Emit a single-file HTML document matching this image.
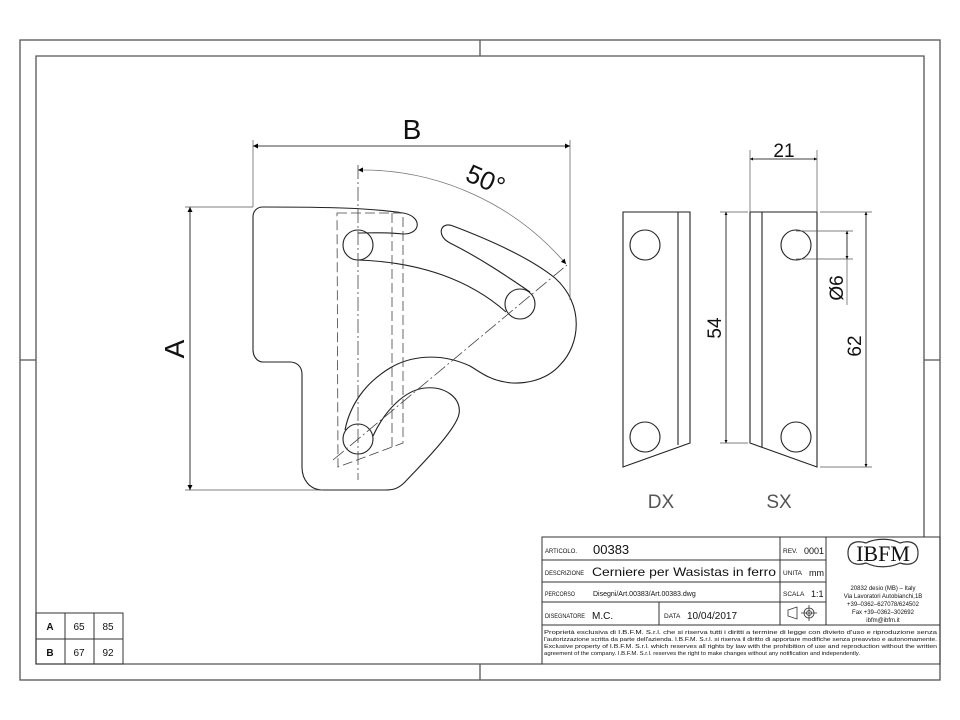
<!DOCTYPE html>
<html><head><meta charset="utf-8"><style>
html,body{margin:0;padding:0;background:#fff;}
svg{display:block;}
text{font-family:"Liberation Sans",sans-serif;fill:#111;}
</style></head><body>
<svg width="960" height="720" viewBox="0 0 960 720" xmlns="http://www.w3.org/2000/svg">
<defs>
<marker id="ar" viewBox="0 0 10 10" refX="10" refY="5" markerWidth="14" markerHeight="5" orient="auto-start-reverse" markerUnits="userSpaceOnUse"><path d="M0,0 L10,5 L0,10 z" fill="#000"/></marker>
<marker id="as" viewBox="0 0 10 10" refX="10" refY="5" markerWidth="8" markerHeight="3" orient="auto-start-reverse" markerUnits="userSpaceOnUse"><path d="M0,0 L10,5 L0,10 z" fill="#000"/></marker>
</defs>
<g fill="none" stroke="#555" stroke-width="1.3">
<rect x="20" y="40" width="920" height="640"/>
<path d="M924,537 V56 H36 V664 H542"/>
<path d="M480,40 V56 M480,664 V680 M20,360 H36 M924,360 H940"/>
</g>
<g fill="none" stroke="#333" stroke-width="1">
<rect x="36" y="613" width="87" height="51"/>
<path d="M36,639 H123 M65,613 V664 M94,613 V664"/>
</g>
<text x="50" y="630" font-size="10" font-weight="bold" text-anchor="middle">A</text>
<text x="50" y="656" font-size="10" font-weight="bold" text-anchor="middle">B</text>
<text x="79" y="630" font-size="10" text-anchor="middle">65</text>
<text x="108" y="630" font-size="10" text-anchor="middle">85</text>
<text x="79" y="656" font-size="10" text-anchor="middle">67</text>
<text x="108" y="656" font-size="10" text-anchor="middle">92</text>

<g fill="none" stroke="#222" stroke-width="1.1">
<path d="M263,207 C330,207 370,208 403,213 C422,216 422,234 403,234 C385,232 370,233 358,233"/>
<path d="M358,260 C420,262 470,280 506,312"/>
<path d="M530,292 C505,275 480,258 450,243 C436,236 440,221 453,226 C490,240 530,258 555,278 C585,305 580,345 560,365 C545,382 520,385 505,382 C490,380 480,372 470,366 C440,352 410,356 390,368 C365,383 350,405 345,430"/>
<path d="M373,436 C385,410 405,390 425,388 C445,386 462,398 459,414 C456,430 420,466 405,482 C398,489 393,490 385,490 L323,490 C310,490 302,480 302,467 L302,374 C302,366 296,362 290,362 L263,362 C257,362 253,356 253,350 L253,217 C253,211 257,207 263,207"/>
<circle cx="358" cy="245" r="15"/>
<circle cx="520" cy="304" r="15"/>
<circle cx="358" cy="439" r="15"/>
</g>
<g fill="none" stroke="#444" stroke-width="0.8" stroke-dasharray="10,4">
<path d="M337,213 H403 V443 L338,467 Z"/>
<path d="M392,213 V447"/>
</g>
<g fill="none" stroke="#444" stroke-width="0.8" stroke-dasharray="14,3,2,3">
<path d="M358,165 V480"/>
<path d="M333,460 L567,265"/>
</g>
<g fill="none" stroke="#555" stroke-width="0.7">
<path d="M253,140 V207 M570,140 V300"/>
<path d="M185,207 H253 M185,490 H323"/>
</g>
<g fill="none" stroke="#000" stroke-width="0.8">
<path d="M253,146 H570" marker-start="url(#ar)" marker-end="url(#ar)"/>
<path d="M190,207 V490" marker-start="url(#ar)" marker-end="url(#ar)"/>
<path d="M358,170 A269,269 0 0 1 566,264" marker-start="url(#ar)" marker-end="url(#ar)" stroke="#777"/>
</g>
<text x="412" y="139" font-size="28" text-anchor="middle">B</text>
<text transform="translate(184,349) rotate(-90)" font-size="28" text-anchor="middle">A</text>
<text transform="translate(482,188) rotate(24)" font-size="26" text-anchor="middle">50°</text>

<g fill="none" stroke="#222" stroke-width="1.1">
<path d="M623,212 H690 V443 L623,467 Z M678,212 V445"/>
<circle cx="645" cy="245" r="15"/><circle cx="645" cy="437" r="15"/>
<path d="M750,212 H817 V467 L750,443 Z M762,212 V447"/>
<circle cx="796" cy="245" r="15"/><circle cx="796" cy="437" r="15"/>
</g>
<g fill="none" stroke="#555" stroke-width="0.7">
<path d="M750,150 V212 M817,150 V212"/>
<path d="M720,212 H748 M720,443 H748"/>
<path d="M820,212 H872 M820,467 H872"/>
<path d="M796,231 H853 M796,259 H853"/>
<path d="M847,259 V305"/>
</g>
<g fill="none" stroke="#000" stroke-width="0.8">
<path d="M750,159 H817" marker-start="url(#as)" marker-end="url(#as)"/>
<path d="M726,212 V443" marker-start="url(#as)" marker-end="url(#as)"/>
<path d="M866,212 V467" marker-start="url(#as)" marker-end="url(#as)"/>
<path d="M847,231 V259" marker-start="url(#as)" marker-end="url(#as)"/>
</g>
<text x="784" y="157" font-size="19" text-anchor="middle">21</text>
<text transform="translate(721,328) rotate(-90)" font-size="19" text-anchor="middle">54</text>
<text transform="translate(861,346) rotate(-90)" font-size="19" text-anchor="middle">62</text>
<text transform="translate(843,288) rotate(-90)" font-size="19" text-anchor="middle">Ø6</text>
<text x="661" y="508" font-size="19" text-anchor="middle" style="fill:#555">DX</text>
<text x="779" y="508" font-size="19" text-anchor="middle" style="fill:#555">SX</text>

<g fill="none" stroke="#333" stroke-width="1">
<rect x="542" y="537" width="398" height="127"/>
<path d="M542,560 H826 M542,582 H826 M542,602 H826 M542,625 H940"/>
<path d="M780,537 V625 M826,537 V625 M659,602 V625"/>
</g>
<g font-size="6.5">
<text x="545" y="553" textLength="32" lengthAdjust="spacingAndGlyphs">ARTICOLO.</text>
<text x="545" y="575" textLength="39" lengthAdjust="spacingAndGlyphs">DESCRIZIONE</text>
<text x="545" y="596" textLength="30" lengthAdjust="spacingAndGlyphs">PERCORSO</text>
<text x="545" y="618" textLength="40" lengthAdjust="spacingAndGlyphs">DISEGNATORE</text>
<text x="664" y="618">DATA</text>
<text x="783" y="553">REV.</text>
<text x="783" y="575">UNITA</text>
<text x="783" y="596">SCALA</text>
</g>
<text x="593" y="554" font-size="13">00383</text>
<text x="592" y="576" font-size="12" textLength="184" lengthAdjust="spacingAndGlyphs">Cerniere per Wasistas in ferro</text>
<text x="593" y="596" font-size="7">Disegni/Art.00383/Art.00383.dwg</text>
<text x="592" y="619" font-size="10">M.C.</text>
<text x="687" y="619" font-size="10">10/04/2017</text>
<text x="804" y="554" font-size="9">0001</text>
<text x="809" y="576" font-size="9">mm</text>
<text x="811" y="597" font-size="9">1:1</text>
<g fill="none" stroke="#333" stroke-width="0.8">
<path d="M788,610 L797,607 V619 L788,616 Z"/>
<circle cx="809" cy="613" r="5"/><circle cx="809" cy="613" r="2.5"/>
<path d="M801,613 H817 M809,605 V621"/>
<path d="M848,553 C848,540 860,541 866,543 C876,538 890,538 900,543 C906,541 918,540 918,553 C918,566 906,565 900,563 C890,568 876,568 866,563 C860,565 848,566 848,553 Z" stroke-width="1.2"/>
</g>
<text x="883" y="561" font-size="22" text-anchor="middle" style="font-family:'Liberation Serif',serif">IBFM</text>
<g font-size="6" text-anchor="middle">
<text x="883" y="590">20832 desio (MB) – Italy</text>
<text x="883" y="598">Via Lavoratori Autobianchi,1B</text>
<text x="883" y="606">+39–0362–627078/624502</text>
<text x="883" y="614">Fax +39–0362–302692</text>
<text x="883" y="622">ibfm@ibfm.it</text>
</g>
<g font-size="5.4">
<text x="544" y="634" textLength="393" lengthAdjust="spacingAndGlyphs">Proprietà esclusiva di I.B.F.M. S.r.l. che si riserva tutti i diritti a termine di legge con divieto d'uso e riproduzione senza</text>
<text x="544" y="641" textLength="393" lengthAdjust="spacingAndGlyphs">l'autorizzazione scritta da parte dell'azienda. I.B.F.M. S.r.l. si riserva il diritto di apportare modifiche senza preavviso e autonomamente.</text>
<text x="544" y="648" textLength="393" lengthAdjust="spacingAndGlyphs">Exclusive property of I.B.F.M. S.r.l. which reserves all rights by law with the prohibition of use and reproduction without the written</text>
<text x="544" y="655" textLength="316" lengthAdjust="spacingAndGlyphs">agreement of the company. I.B.F.M. S.r.l. reserves the right to make changes without any notification and independently.</text>
</g>
</svg>
</body></html>
